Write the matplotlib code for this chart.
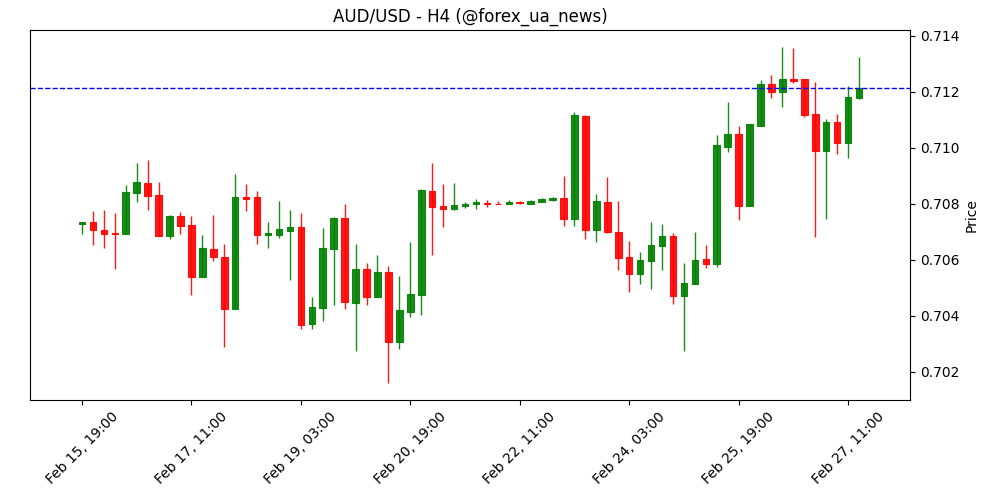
import matplotlib
matplotlib.use("Agg")
from matplotlib import pyplot as plt
import matplotlib.dates as mdates
import numpy as np
import pandas as pd

# 4h candles, AUD/USD
times = pd.date_range("2025-02-15 19:00", periods=72, freq="4h")

opens = [0.70728, 0.70736, 0.70707, 0.70696, 0.70694, 0.70840, 0.70875, 0.70832,
         0.70687, 0.70757, 0.70725, 0.70540, 0.70639, 0.70611, 0.70426, 0.70825,
         0.70825, 0.70690, 0.70690, 0.70705, 0.70718, 0.70373, 0.70430, 0.70640,
         0.70750, 0.70448, 0.70568, 0.70469, 0.70557, 0.70308, 0.70415, 0.70476,
         0.70846, 0.70793, 0.70783, 0.70794, 0.70799, 0.70805, 0.70801, 0.70798,
         0.70808, 0.70801, 0.70808, 0.70815, 0.70820, 0.70745, 0.71114, 0.70706,
         0.70807, 0.70700, 0.70611, 0.70551, 0.70598, 0.70651, 0.70685, 0.70473,
         0.70515, 0.70604, 0.70587, 0.71005, 0.71049, 0.70794, 0.71080, 0.71229,
         0.71201, 0.71246, 0.71246, 0.71121, 0.70990, 0.71093, 0.71019, 0.71180]
highs = [0.70736, 0.70775, 0.70778, 0.70767, 0.70868, 0.70946, 0.70957, 0.70878,
         0.70760, 0.70771, 0.70756, 0.70688, 0.70760, 0.70656, 0.70906, 0.70870,
         0.70845, 0.70735, 0.70810, 0.70778, 0.70768, 0.70468, 0.70713, 0.70754,
         0.70800, 0.70656, 0.70588, 0.70617, 0.70578, 0.70542, 0.70663, 0.70854,
         0.70945, 0.70870, 0.70874, 0.70807, 0.70818, 0.70814, 0.70811, 0.70814,
         0.70812, 0.70815, 0.70821, 0.70825, 0.70899, 0.71128, 0.71118, 0.70835,
         0.70895, 0.70810, 0.70667, 0.70628, 0.70735, 0.70728, 0.70696, 0.70588,
         0.70699, 0.70653, 0.71045, 0.71163, 0.71078, 0.71085, 0.71242, 0.71261,
         0.71361, 0.71356, 0.71246, 0.71236, 0.71104, 0.71121, 0.71221, 0.71325]
lows = [0.70692, 0.70653, 0.70642, 0.70567, 0.70694, 0.70806, 0.70778, 0.70687,
        0.70676, 0.70694, 0.70474, 0.70540, 0.70595, 0.70288, 0.70426, 0.70775,
        0.70656, 0.70642, 0.70679, 0.70528, 0.70353, 0.70353, 0.70381, 0.70438,
        0.70426, 0.70274, 0.70438, 0.70469, 0.70160, 0.70283, 0.70395, 0.70405,
        0.70617, 0.70717, 0.70778, 0.70785, 0.70781, 0.70788, 0.70798, 0.70798,
        0.70801, 0.70801, 0.70808, 0.70810, 0.70720, 0.70720, 0.70674, 0.70663,
        0.70698, 0.70563, 0.70485, 0.70515, 0.70495, 0.70563, 0.70442, 0.70274,
        0.70515, 0.70570, 0.70574, 0.70985, 0.70742, 0.70794, 0.71080, 0.71178,
        0.71145, 0.71231, 0.71110, 0.70683, 0.70748, 0.70978, 0.70963, 0.71173]
closes = [0.70736, 0.70706, 0.70694, 0.70694, 0.70843, 0.70879, 0.70830, 0.70687,
          0.70757, 0.70723, 0.70540, 0.70643, 0.70612, 0.70426, 0.70825, 0.70819,
          0.70690, 0.70696, 0.70711, 0.70718, 0.70369, 0.70432, 0.70643, 0.70750,
          0.70451, 0.70568, 0.70469, 0.70557, 0.70308, 0.70421, 0.70479, 0.70850,
          0.70790, 0.70783, 0.70796, 0.70801, 0.70807, 0.70799, 0.70798, 0.70807,
          0.70804, 0.70811, 0.70818, 0.70821, 0.70745, 0.71118, 0.70706, 0.70811,
          0.70701, 0.70608, 0.70549, 0.70599, 0.70653, 0.70685, 0.70473, 0.70517,
          0.70599, 0.70587, 0.71010, 0.71049, 0.70794, 0.71085, 0.71229, 0.71201,
          0.71246, 0.71240, 0.71119, 0.70990, 0.71093, 0.71019, 0.71182, 0.71213]

x = mdates.date2num(times.to_pydatetime())
o = np.array(opens)
h = np.array(highs)
l = np.array(lows)
c = np.array(closes)
up = c >= o
colors = np.where(up, 'green', 'red')

step = 4 / 24
width = 0.6 * step

fig = plt.figure(figsize=(10, 5), dpi=100)
ax = fig.add_axes([0.03, 0.2, 0.88, 0.74])

ax.vlines(x, l, h, colors=colors, linewidth=1, alpha=0.9)
body = np.abs(c - o)
body = np.where(body < 0.00001, 0.00001, body)
ax.bar(x, body, width=width, bottom=np.minimum(o, c), color=colors,
       edgecolor=colors, linewidth=0.8, alpha=0.9)

ax.axhline(closes[-1], color='blue', linestyle='--', linewidth=1)

ax.set_xlim(x[0] - 4.75 * step, x[-1] + 4.66 * step)
ax.set_ylim(0.701, 0.71421)

ax.set_xticks(x[::10])
ax.xaxis.set_major_formatter(mdates.DateFormatter('%b %d, %H:%M'))
plt.setp(ax.get_xticklabels(), rotation=45)

ax.yaxis.tick_right()
ax.yaxis.set_label_position('right')
ax.set_yticks(np.arange(0.702, 0.7141, 0.002))
ax.yaxis.set_major_formatter(matplotlib.ticker.FormatStrFormatter('%.3f'))
ax.set_ylabel('Price')
ax.set_title('AUD/USD - H4 (@forex_ua_news)')

plt.savefig('out.png')
